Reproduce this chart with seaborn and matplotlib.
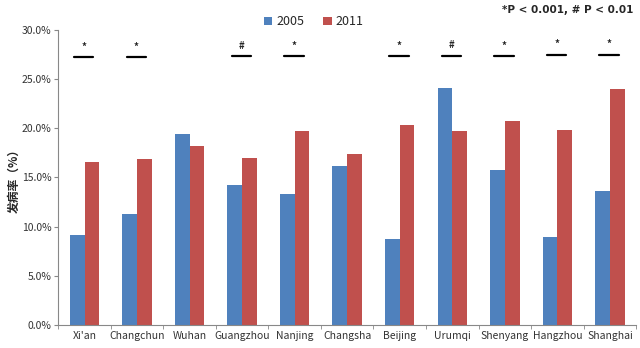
import matplotlib
matplotlib.use("Agg")
import matplotlib.pyplot as plt
from matplotlib.ticker import FuncFormatter, MultipleLocator, FixedLocator
import seaborn as sns
import pandas as pd
import numpy as np

cities = ["Xi'an", "Changchun", "Wuhan", "Guangzhou", "Nanjing", "Changsha",
          "Beijing", "Urumqi", "Shenyang", "Hangzhou", "Shanghai"]
v2005 = [9.15, 11.3, 19.4, 14.2, 13.3, 16.2, 8.7, 24.1, 15.8, 8.9, 13.6]
v2011 = [16.6, 16.9, 18.2, 17.0, 19.7, 17.4, 20.3, 19.7, 20.7, 19.8, 24.0]
marks = ["*", "*", "", "#", "*", "", "*", "#", "*", "*", "*"]
mark_y = [27.2, 27.2, 0, 27.3, 27.3, 0, 27.3, 27.4, 27.3, 27.5, 27.5]

df = pd.DataFrame({
    "city": cities * 2,
    "year": ["2005"] * len(cities) + ["2011"] * len(cities),
    "rate": v2005 + v2011,
})

sns.set_style("white")
plt.rcParams['font.family'] = ['Noto Sans CJK SC', 'DejaVu Sans']

fig = plt.figure(figsize=(6.4, 3.48), dpi=100)
ax = fig.add_axes([0.091, 0.066, 0.903, 0.848])

sns.barplot(data=df, x="city", y="rate", hue="year",
            palette={"2005": "#4F81BD", "2011": "#C0504D"},
            width=0.56, saturation=1, linewidth=0, ax=ax, legend=True)

ax.set_ylim(0, 30)
ax.set_xlim(-0.5, len(cities) - 0.5)
ax.yaxis.set_major_locator(MultipleLocator(5))
ax.yaxis.set_major_formatter(FuncFormatter(lambda v, p: f"{v:.1f}%"))
ax.set_xlabel("")
ax.set_ylabel("发病率（%）", fontsize=8.5, fontweight="bold", labelpad=1)

for s in ["top", "right"]:
    ax.spines[s].set_visible(False)
for s in ["left", "bottom"]:
    ax.spines[s].set_color("#888888")
    ax.spines[s].set_linewidth(0.8)

ax.tick_params(axis="y", labelsize=7.5, length=3, color="#888888", left=True,
               pad=2, labelcolor="#333333")
ax.tick_params(axis="x", which="major", labelsize=7.5, length=0, pad=4,
               labelcolor="#333333")
ax.xaxis.set_minor_locator(FixedLocator(np.arange(-0.5, len(cities), 1.0)))
ax.tick_params(axis="x", which="minor", length=3, color="#888888", bottom=True)

for i, (m, y) in enumerate(zip(marks, mark_y)):
    if m:
        ax.plot([i - 0.2, i + 0.17], [y, y], color="black", lw=1.6)
        ax.text(i - 0.015, y + 0.6, m, ha="center", va="bottom", fontsize=7,
                fontweight="bold")

leg = ax.legend(loc="center", bbox_to_anchor=(0.49, 0.937),
                bbox_transform=fig.transFigure, ncol=2,
                frameon=False, fontsize=9, handlelength=0.7, handleheight=0.7,
                columnspacing=1.5, handletextpad=0.3)

fig.text(0.99, 0.985, "*P < 0.001, # P < 0.01", ha="right", va="top",
         fontsize=7.5, fontweight="bold", family="DejaVu Sans")

fig.savefig("out.png", dpi=100)
